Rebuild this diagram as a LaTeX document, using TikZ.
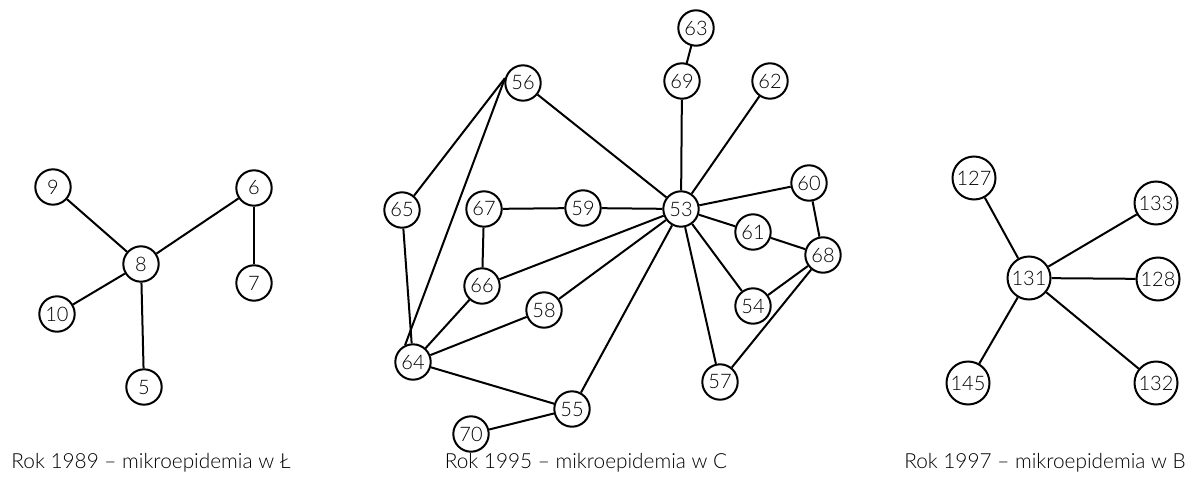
\documentclass[tikz,border=0pt]{standalone}
\usepackage{fontspec}
\setmainfont{Lato}[UprightFont=* Light]

\begin{document}
\begin{tikzpicture}[x=0.5pt, y=-0.5pt,
vertex/.style={circle,draw,line width=1pt,minimum size=17.7pt,inner sep=0pt,font=\fontsize{10}{11}\selectfont},
bigvertex/.style={vertex,minimum size=21.5pt},
edge/.style={line width=1pt},
caption/.style={anchor=center,font=\fontsize{10.4}{12}\selectfont}]
%================================================================
%	Frame
\useasboundingbox (0,0) rectangle (1192,476);

%================================================================
%	Nodes -- 1989
\node[style=vertex] (v9) at (53,187) {9};
\node[style=vertex] (v6) at (254,188) {6};
\node[style=vertex] (v8) at (141,264) {8};
\node[style=vertex] (v7) at (254,283) {7};
\node[style=vertex] (v10) at (57,314) {10};
\node[style=vertex] (v5) at (144,387) {5};
%----------------------------------------------------------------
%	Nodes -- 1995
\node[style=vertex] (v63) at (696,28) {63};
\node[style=vertex] (v69) at (682,81) {69};
\node[style=vertex] (v62) at (770,81) {62};
\node[style=vertex] (v56) at (523,83) {56};
\node[style=vertex] (v60) at (809,183) {60};
\node[style=vertex] (v65) at (402,210) {65};
\node[style=vertex] (v67) at (484,209) {67};
\node[style=vertex] (v59) at (583,208) {59};
\node[style=vertex] (v53) at (681,209) {53};
\node[style=vertex] (v61) at (753,232) {61};
\node[style=vertex] (v68) at (823,255) {68};
\node[style=vertex] (v66) at (482,286) {66};
\node[style=vertex] (v54) at (753,306) {54};
\node[style=vertex] (v58) at (544,310) {58};
\node[style=vertex] (v64) at (413,362) {64};
\node[style=vertex] (v57) at (720,382) {57};
\node[style=vertex] (v55) at (572,409) {55};
\node[style=vertex] (v70) at (471,434) {70};
%----------------------------------------------------------------
%	Nodes -- 1997
\node[style=bigvertex] (v127) at (974,178) {127};
\node[style=bigvertex] (v133) at (1156,203) {133};
\node[style=bigvertex] (v131) at (1029,278) {131};
\node[style=bigvertex] (v128) at (1158,279) {128};
\node[style=bigvertex] (v145) at (968,383) {145};
\node[style=bigvertex] (v132) at (1156,383) {132};

%================================================================
%	Lines -- 1989
\draw[edge] (v9) -- (v8);
\draw[edge] (v6) -- (v8);
\draw[edge] (v6) -- (v7);
\draw[edge] (v8) -- (v10);
\draw[edge] (v8) -- (v5);
%----------------------------------------------------------------
%	Lines -- 1995
\draw[edge] (v63) -- (v69);
\draw[edge] (v69) -- (v53);
\draw[edge] (v62) -- (v53);
\draw[edge] (v56) -- (v53);
\draw[edge] (v56.165) -- (v65.50);
\draw[edge] (v56.165) -- (v64.115);
\draw[edge] (v65) -- (v64);
\draw[edge] (v67) -- (v59);
\draw[edge] (v59) -- (v53);
\draw[edge] (v67) -- (v66);
\draw[edge] (v66) -- (v53);
\draw[edge] (v58) -- (v53);
\draw[edge] (v55) -- (v53);
\draw[edge] (v53) -- (v60);
\draw[edge] (v53) -- (v61);
\draw[edge] (v53) -- (v54);
\draw[edge] (v53) -- (v57);
\draw[edge] (v60) -- (v68);
\draw[edge] (v61) -- (v68);
\draw[edge] (v54) -- (v68);
\draw[edge] (v57) -- (v68);
\draw[edge] (v66) -- (v64);
\draw[edge] (v58) -- (v64);
\draw[edge] (v64) -- (v55);
\draw[edge] (v55) -- (v70);
%----------------------------------------------------------------
%	Lines -- 1997
\draw[edge] (v127) -- (v131);
\draw[edge] (v133) -- (v131);
\draw[edge] (v128) -- (v131);
\draw[edge] (v145) -- (v131);
\draw[edge] (v132) -- (v131);

%================================================================
%	Captions
\node[style=caption] (cap1) at (151,463) {Rok 1989 – mikroepidemia w Ł};
\node[style=caption] (cap2) at (586,463) {Rok 1995 – mikroepidemia w C};
\node[style=caption] (cap3) at (1045,463) {Rok 1997 – mikroepidemia w B};
%================================================================
\end{tikzpicture}
\end{document}
